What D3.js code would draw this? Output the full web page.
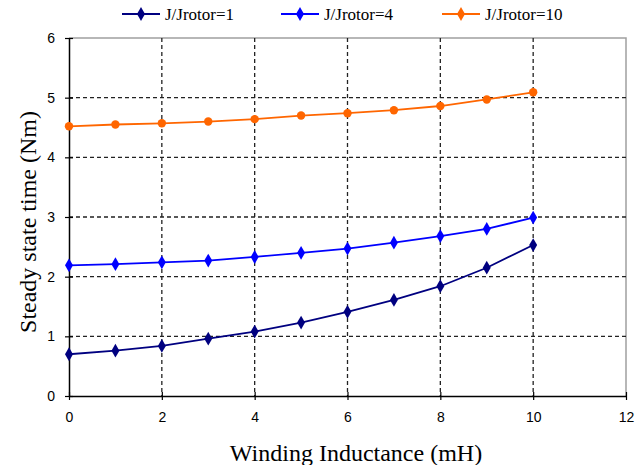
<!DOCTYPE html>
<html>
<head>
<meta charset="utf-8">
<script src="https://cdn.jsdelivr.net/npm/d3@7"></script>
<style>
  html, body { margin: 0; padding: 0; background: #fff; }
  svg { display: block; }
</style>
</head>
<body>
<svg id="chart" width="635" height="465"></svg>
<script>
// Winding inductance (mH)
const inductance = [0, 1, 2, 3, 4, 5, 6, 7, 8, 9, 10];
// Steady state time for each inertia ratio
const ratio1  = [0.70, 0.76, 0.84, 0.96, 1.08, 1.23, 1.41, 1.61, 1.84, 2.15, 2.53];
const ratio4  = [2.19, 2.21, 2.24, 2.27, 2.33, 2.40, 2.47, 2.57, 2.68, 2.80, 2.99];
const ratio10 = [4.52, 4.55, 4.57, 4.60, 4.64, 4.70, 4.74, 4.79, 4.86, 4.97, 5.09];
const seriesNames = ["J/Jrotor=1", "J/Jrotor=4", "J/Jrotor=10"];
const xTicks = [0, 2, 4, 6, 8, 10, 12];
const yTicks = [0, 1, 2, 3, 4, 5, 6];

const series = [
  { name: seriesNames[0], values: ratio1,  color: "#000080", marker: "diamond" },
  { name: seriesNames[1], values: ratio4,  color: "#0000ff", marker: "diamond" },
  { name: seriesNames[2], values: ratio10, color: "#ff6600", marker: "circle" }
];

const svg = d3.select("#chart");
const plotL = 69, plotR = 626, plotT = 38, plotB = 396;

const x = d3.scaleLinear().domain([0, 12]).range([plotL, plotR]);
const y = d3.scaleLinear().domain([0, 6]).range([plotB, plotT]);

const serif = "'Liberation Serif', 'Times New Roman', serif";
const sans = "'Liberation Sans', Arial, sans-serif";

// plot-area frame (top and right edges)
svg.append("path")
  .attr("d", `M${plotL},${plotT}H${plotR}V${plotB}`)
  .attr("fill", "none").attr("stroke", "#a0a0a0").attr("stroke-width", 1.5);

// dashed grid
const grid = svg.append("g").attr("stroke", "#222").attr("stroke-width", 1.3)
  .attr("stroke-dasharray", "4,3");
grid.selectAll(".gh").data(yTicks.filter(d => d > 0 && d < 6)).enter().append("line")
  .attr("x1", plotL).attr("x2", plotR)
  .attr("y1", d => y(d)).attr("y2", d => y(d));
grid.selectAll(".gv").data(xTicks.filter(d => d > 0 && d < 12)).enter().append("line")
  .attr("y1", plotT).attr("y2", plotB)
  .attr("x1", d => x(d)).attr("x2", d => x(d));

// axes
const fmt = d3.format("d");
const xAxis = d3.axisBottom(x).tickValues(xTicks).tickFormat(fmt)
  .tickSizeInner(4).tickSizeOuter(0).tickPadding(12);
const yAxis = d3.axisLeft(y).tickValues(yTicks).tickFormat(fmt)
  .tickSizeInner(4).tickSizeOuter(0).tickPadding(10);

const gx = svg.append("g").attr("transform", `translate(0,${plotB})`).call(xAxis);
const gy = svg.append("g").attr("transform", `translate(${plotL},0)`).call(yAxis);

[gx, gy].forEach(g => {
  g.select(".domain").attr("stroke", "#000").attr("stroke-width", 1.5);
  g.selectAll(".tick line").attr("stroke", "#000").attr("stroke-width", 1.2);
  g.selectAll(".tick text").attr("fill", "#000")
    .style("font-family", sans).style("font-size", "14px");
});
// ticks cross the axis lines
gx.selectAll(".tick line").attr("y1", -4).attr("y2", 4);
gy.selectAll(".tick line").attr("x1", -4).attr("x2", 4);

// axis titles
svg.append("text")
  .attr("x", 356).attr("y", 461)
  .attr("text-anchor", "middle")
  .style("font-family", serif).style("font-size", "24px")
  .text("Winding Inductance (mH)");
svg.append("text")
  .attr("transform", `translate(36,222) rotate(-90)`)
  .attr("text-anchor", "middle")
  .style("font-family", serif).style("font-size", "24px")
  .text("Steady state time (Nm)");

// lines and markers
const line = d3.line().x((d, i) => x(inductance[i])).y(d => y(d));
const diamond = d3.symbol().type(d3.symbolDiamond).size(55);

function drawMarker(g, s, cx, cy) {
  if (s.marker === "circle") {
    g.append("circle").attr("cx", cx).attr("cy", cy).attr("r", 4.2).attr("fill", s.color);
  } else {
    g.append("path").attr("d", diamond()).attr("transform", `translate(${cx},${cy})`).attr("fill", s.color);
  }
}

series.forEach(s => {
  svg.append("path").datum(s.values)
    .attr("d", line).attr("fill", "none")
    .attr("stroke", s.color).attr("stroke-width", 1.8);
  const g = svg.append("g");
  s.values.forEach((v, i) => drawMarker(g, s, x(inductance[i]), y(v)));
});

// legend
const legendX = [122, 281, 442];
series.forEach((s, i) => {
  const lx = legendX[i], ly = 14;
  svg.append("line").attr("x1", lx).attr("x2", lx + 38).attr("y1", ly).attr("y2", ly)
    .attr("stroke", s.color).attr("stroke-width", 1.8);
  svg.append("path").attr("d", diamond()).attr("transform", `translate(${lx + 19},${ly})`).attr("fill", s.color);
  svg.append("text").attr("x", lx + 43).attr("y", ly + 6)
    .style("font-family", serif).style("font-size", "17px")
    .text(s.name);
});
</script>
</body>
</html>
